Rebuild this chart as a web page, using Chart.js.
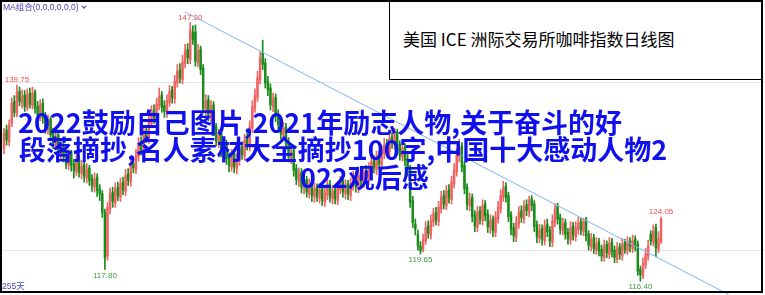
<!DOCTYPE html>
<html>
<head>
<meta charset="utf-8">
<script src="https://cdn.jsdelivr.net/npm/chart.js@4/dist/chart.umd.min.js"></script>
<style>
  html, body { margin: 0; padding: 0; background: #fff; }
  #wrap { position: relative; width: 765px; height: 295px; overflow: hidden; background: #fff; }
  #cbox { position: absolute; left: 0; top: 0; width: 765px; height: 295px; }
  .frame { position: absolute; left: 0; top: 0; width: 759px; height: 289px; border: 2px solid #000; pointer-events: none; }
  .ma { position: absolute; left: 3px; top: 2px; font: 8.5px "Liberation Sans", "Noto Sans CJK SC", sans-serif; color: #4848b0; white-space: nowrap; line-height: 11px; }
  .ma .chev { display: inline-block; width: 3px; height: 3px; border-right: 1px solid #4848b0; border-bottom: 1px solid #4848b0; transform: rotate(45deg); margin-left: 3px; position: relative; top: -2px; }
  .days { position: absolute; left: 2px; top: 281px; font: 8.5px "Liberation Sans", "Noto Sans CJK SC", sans-serif; color: #4848b0; line-height: 11px; }
  .titlebox { position: absolute; left: 389px; top: 0; width: 372px; height: 78px; border: 1.5px solid #000; background: #fff; }
  .titlebox span { position: absolute; left: 13px; top: 29px; font: 17px "Noto Sans CJK SC", sans-serif; line-height: 17px; color: #000; white-space: nowrap; }
  .over { position: absolute; font: 700 27px "Noto Sans CJK SC", sans-serif; line-height: 27px; color: #1010ee; white-space: nowrap; }
</style>
</head>
<body>
<div id="wrap">
  <div id="cbox"><canvas id="c"></canvas></div>
  <div class="ma">MA组合(0,0,0,0,0,0)<span class="chev"></span></div>
  <div class="days">255天</div>
  <div class="titlebox"><span>美国 ICE 洲际交易所咖啡指数日线图</span></div>
  <div class="over" style="left:18px;top:108px;">2022鼓励自己图片,2021年励志人物,关于奋斗的好</div>
  <div class="over" style="left:19px;top:135px;">段落摘抄,名人素材大全摘抄100字,中国十大感动人物2</div>
  <div class="over" style="left:300px;top:163px;">022观后感</div>
  <div class="frame"></div>
</div>
<script>
// Daily coffee index candles, 255 trading days (oldest first)
const opens = [
  132.2,134.4,133.0,135.2,137.8,136.4,139.0,137.6,138.6,137.0,
  138.8,137.3,138.9,137.2,136.0,137.6,136.0,134.4,135.7,134.0,
  132.7,133.8,131.6,132.7,131.4,130.2,131.7,130.4,129.4,131.0,
  129.2,130.3,128.7,129.9,128.6,127.6,128.8,127.4,126.8,124.6,
  119.4,125.0,127.0,125.7,127.6,126.4,128.2,127.1,129.2,128.2,
  130.4,129.7,131.2,133.0,131.8,134.3,133.3,135.2,136.8,135.6,
  137.3,138.6,137.3,136.4,137.7,139.2,138.1,140.0,141.6,140.4,
  142.3,144.0,142.8,146.0,146.1,142.4,144.0,141.8,136.8,138.0,
  136.0,137.4,134.8,132.9,134.0,131.7,132.8,131.2,130.0,131.6,
  129.8,130.7,132.4,131.3,133.4,132.4,134.6,137.0,138.3,140.4,
  143.6,142.4,140.2,139.4,137.2,138.3,136.2,135.3,133.8,134.8,
  133.0,131.0,132.0,129.8,128.3,129.4,127.4,128.5,126.8,128.1,
  126.4,127.6,126.3,127.5,125.8,126.7,128.0,126.2,127.3,126.0,
  127.3,128.4,126.8,128.0,126.6,127.8,129.0,127.4,129.2,128.1,
  129.6,128.4,129.6,130.8,129.7,131.4,130.2,131.6,132.8,131.8,
  133.6,132.6,134.1,132.7,131.2,132.4,131.0,129.8,126.0,123.2,
  122.0,120.6,120.2,121.2,123.0,121.9,123.4,124.6,123.5,125.0,
  126.6,125.4,127.3,126.1,128.0,129.4,131.2,132.5,130.2,127.6,
  125.4,126.4,124.3,122.8,124.8,123.6,125.6,124.4,122.7,123.8,
  122.2,123.8,125.0,126.4,127.7,126.6,124.3,122.8,121.6,123.2,
  124.8,123.8,125.5,124.6,126.2,125.6,123.1,121.5,122.7,121.2,
  123.2,122.5,121.0,123.4,125.3,124.0,122.4,123.4,122.2,121.3,
  123.0,121.7,122.6,123.5,122.3,123.7,122.0,120.5,121.6,120.1,
  121.1,120.2,119.2,120.8,119.6,121.1,120.1,119.0,120.5,119.4,
  121.0,120.0,121.2,120.3,121.4,120.8,117.8,117.0,118.3,119.4,
  122.0,121.0,122.8,120.2,121.1
];
const highs = [
  134.6,135.0,135.6,138.2,138.5,139.75,139.5,139.2,139.1,139.3,
  139.4,139.5,139.2,137.8,138.0,138.1,136.5,136.2,136.0,134.6,
  134.3,134.2,133.3,133.0,131.9,132.1,132.0,130.9,131.5,131.4,
  130.8,130.7,130.4,130.2,129.1,129.3,129.2,127.9,127.2,125.0,
  125.8,127.5,127.6,128.1,128.2,128.7,128.8,129.7,129.8,130.9,
  131.1,132.1,133.5,133.6,134.8,134.9,136.1,137.3,137.4,138.2,
  139.4,139.0,137.9,138.6,139.7,139.6,140.9,142.2,142.3,143.3,
  144.6,144.7,147.2,146.8,146.9,144.6,144.4,142.2,138.6,138.5,
  137.9,137.8,135.2,134.5,134.4,133.3,133.2,131.7,132.1,132.0,
  131.6,132.9,133.0,133.9,134.0,135.5,137.9,139.3,141.4,143.7,
  145.1,142.9,140.8,139.9,138.8,138.7,136.8,135.8,135.3,135.2,
  133.5,132.5,132.4,130.3,129.9,129.8,129.0,128.9,128.6,128.5,
  128.1,128.0,128.0,127.9,127.6,128.5,128.4,127.8,127.7,128.2,
  128.9,128.8,128.5,128.4,128.7,129.5,129.4,129.7,129.8,130.1,
  130.2,130.5,131.3,131.4,131.9,131.9,132.5,133.4,133.3,134.2,
  134.1,134.6,134.5,133.1,132.9,132.8,131.5,130.2,126.5,123.8,
  122.5,121.1,122.0,123.5,123.6,124.3,125.1,125.2,125.9,127.1,
  127.2,127.8,127.9,128.9,130.4,132.2,133.3,132.9,130.6,128.0,
  126.9,126.8,124.8,125.3,125.3,126.1,126.0,124.9,124.3,124.2,
  124.7,125.9,127.3,128.3,128.1,127.0,124.7,123.3,124.1,125.3,
  125.4,126.0,126.1,126.5,126.6,126.0,123.6,123.2,123.1,123.7,
  123.8,122.9,124.3,125.6,125.7,124.4,123.9,123.8,122.7,123.5,
  123.4,123.5,124.0,123.9,123.9,124.0,122.4,122.1,122.0,121.6,
  121.5,120.7,121.3,121.2,121.6,121.5,120.6,121.0,120.9,121.5,
  121.4,121.7,121.6,121.9,121.8,121.2,118.2,119.2,120.3,121.3,
  122.4,123.1,123.2,122.3,124.05
];
const lows = [
  131.6,132.6,132.5,134.8,136.0,136.0,137.3,137.0,136.6,136.7,
  137.0,136.9,136.4,135.6,135.5,135.2,134.0,133.9,133.2,132.2,
  132.1,131.2,131.0,130.6,129.8,129.7,129.5,128.7,129.0,128.8,
  128.6,128.2,128.1,127.8,127.1,127.0,126.5,126.0,124.0,117.8,
  118.9,124.4,125.2,125.2,126.0,125.9,126.7,126.6,127.8,127.7,
  129.3,129.2,130.7,131.4,131.3,132.9,132.8,134.7,135.2,135.1,
  136.8,136.5,135.9,135.9,137.2,137.6,137.6,139.5,140.0,139.9,
  141.8,142.3,142.3,144.6,142.0,141.9,141.0,136.4,136.0,135.5,
  135.4,134.0,132.5,132.3,131.2,131.0,130.3,129.4,129.5,129.3,
  129.2,130.2,130.9,130.8,132.0,131.9,134.1,136.5,137.8,139.9,
  141.6,139.4,138.5,136.8,136.6,135.4,134.5,133.3,133.2,132.1,
  130.6,130.4,128.9,127.9,127.7,126.9,126.8,126.4,126.3,125.9,
  125.8,125.9,125.7,125.4,125.3,126.1,125.8,125.6,125.6,125.5,
  126.8,126.4,126.2,126.1,126.0,127.2,127.0,126.9,127.7,127.6,
  128.0,127.9,129.0,129.3,129.1,129.8,129.7,131.0,131.4,131.3,
  132.2,132.1,131.9,130.8,130.7,130.1,128.9,125.2,122.8,121.9,
  120.1,119.65,119.9,120.8,121.5,121.4,122.9,123.1,123.0,124.5,
  125.0,124.9,125.7,125.6,127.5,128.9,130.6,129.4,126.8,124.9,
  124.8,123.5,122.3,122.3,123.2,123.1,123.6,122.2,122.1,121.7,
  121.7,123.3,124.5,125.9,125.8,123.5,121.9,121.1,121.1,122.7,
  123.4,123.3,124.2,124.1,124.8,122.3,121.0,121.0,120.7,120.7,
  121.7,120.5,120.5,122.9,123.2,122.0,121.9,121.4,120.8,120.8,
  121.3,121.2,122.0,121.9,121.8,121.2,120.1,120.0,119.7,119.6,
  119.4,118.8,118.8,119.2,119.1,119.3,118.6,118.6,119.0,118.9,
  119.7,119.6,119.9,119.8,120.0,117.1,116.4,116.7,117.9,118.9,
  120.7,120.6,119.3,119.8,120.9
];
const closes = [
  134.0,133.2,135.0,137.6,136.5,138.9,137.8,138.4,137.2,138.6,
  137.5,138.8,137.0,136.2,137.4,135.8,134.6,135.5,133.8,132.9,
  133.6,131.8,132.5,131.2,130.4,131.5,130.2,129.6,130.8,129.4,
  130.1,128.9,129.7,128.4,127.8,128.6,127.2,126.8,124.6,119.2,
  125.2,126.8,125.9,127.4,126.6,128.0,127.3,129.0,128.4,130.2,
  129.9,131.4,132.8,132.0,134.1,133.5,135.4,136.6,135.8,137.5,
  138.4,137.1,136.6,137.9,139.0,138.3,140.2,141.4,140.6,142.5,
  143.8,143.0,146.3,145.2,142.6,143.8,141.6,137.0,137.8,136.2,
  137.2,134.6,133.1,133.8,131.9,132.6,131.0,130.2,131.4,130.0,
  130.9,132.2,131.5,133.2,132.6,134.8,137.2,138.5,140.6,142.9,
  142.2,140.0,139.2,137.4,138.1,136.0,135.1,134.0,134.6,132.8,
  131.2,131.8,129.6,128.5,129.2,127.6,128.3,127.0,127.9,126.6,
  127.4,126.5,127.3,126.0,126.9,127.8,126.4,127.1,126.2,127.5,
  128.2,127.0,127.8,126.8,128.0,128.8,127.6,129.0,128.3,129.4,
  128.6,129.8,130.6,129.9,131.2,130.4,131.8,132.6,132.0,133.4,
  132.8,133.9,132.5,131.4,132.2,130.8,129.6,125.8,123.4,122.6,
  120.6,120.0,121.4,122.8,122.1,123.6,124.4,123.7,125.2,126.4,
  125.6,127.1,126.3,128.2,129.6,131.4,132.3,130.0,127.4,125.6,
  126.2,124.1,123.0,124.6,123.8,125.4,124.2,122.9,123.6,122.4,
  124.0,125.2,126.6,127.5,126.4,124.1,122.6,121.8,123.4,124.6,
  124.0,125.3,124.8,126.0,125.4,122.9,121.7,122.5,121.4,123.0,
  122.3,121.2,123.6,125.1,123.8,122.6,123.2,122.0,121.5,122.8,
  121.9,122.8,123.3,122.5,123.5,121.8,120.7,121.4,120.3,120.9,
  120.0,119.4,120.6,119.8,120.9,119.9,119.2,120.3,119.6,120.8,
  120.2,121.0,120.5,121.2,120.6,117.6,117.2,118.5,119.6,120.6,
  121.2,122.4,120.4,121.5,123.8
];

// Price reference lines
const gridPrices = [120, 140];

// Descending trend line: [day index, price] at each end
const trendDays = [70, 280];
const trendPrices = [148.45, 114.83];

// Days whose extreme gets a value tag
const highTagDays = [5, 72, 254];
const lowTagDays = [39, 161, 246];

const UP = '#f16262';
const DOWN = '#198b19';

const dayIdx = closes.map((_, i) => i);
const candleColors = dayIdx.map(i => closes[i] >= opens[i] ? UP : DOWN);
const bodies = dayIdx.map(i => ({ x: i, y: [opens[i], closes[i]] }));
const wicks = dayIdx.map(i => ({ x: i, y: [lows[i], highs[i]] }));
const trend = trendDays.map((d, k) => ({ x: d, y: trendPrices[k] }));

const tagPlugin = {
  id: 'extremeTags',
  afterDatasetsDraw(chart) {
    const { ctx, scales: { x, y } } = chart;
    ctx.save();
    ctx.font = '8px "Liberation Sans", Arial, sans-serif';
    ctx.textAlign = 'center';
    ctx.fillStyle = '#ef4f4f';
    ctx.textBaseline = 'bottom';
    highTagDays.forEach(d => {
      ctx.fillText(highs[d].toFixed(2), x.getPixelForValue(d), y.getPixelForValue(highs[d]) - 1);
    });
    ctx.fillStyle = '#3f9a3f';
    ctx.textBaseline = 'top';
    lowTagDays.forEach(d => {
      ctx.fillText(lows[d].toFixed(2), x.getPixelForValue(d), y.getPixelForValue(lows[d]) + 2);
    });
    ctx.restore();
  }
};

new Chart(document.getElementById('c'), {
  type: 'bar',
  data: {
    datasets: [
      { type: 'line', data: trend, borderColor: '#7db6f2', borderWidth: 1, pointRadius: 0, order: 0 },
      { data: bodies, backgroundColor: candleColors, barThickness: 1.8, grouped: false, borderWidth: 0, order: 1 },
      { data: wicks, backgroundColor: candleColors, barThickness: 1, grouped: false, borderWidth: 0, order: 2 }
    ]
  },
  options: {
    animation: false,
    responsive: true,
    maintainAspectRatio: false,
    layout: { padding: 0 },
    plugins: { legend: { display: false }, tooltip: { enabled: false } },
    scales: {
      x: { type: 'linear', min: -1.546, max: 294.17, offset: false, display: false },
      y: {
        type: 'linear', min: 114.76, max: 149.88,
        afterBuildTicks: s => { s.ticks = gridPrices.map(v => ({ value: v })); },
        ticks: { display: false },
        border: { display: false },
        grid: { color: '#e6e6e6', lineWidth: 1, drawTicks: false }
      }
    }
  },
  plugins: [tagPlugin]
});
</script>
</body>
</html>
